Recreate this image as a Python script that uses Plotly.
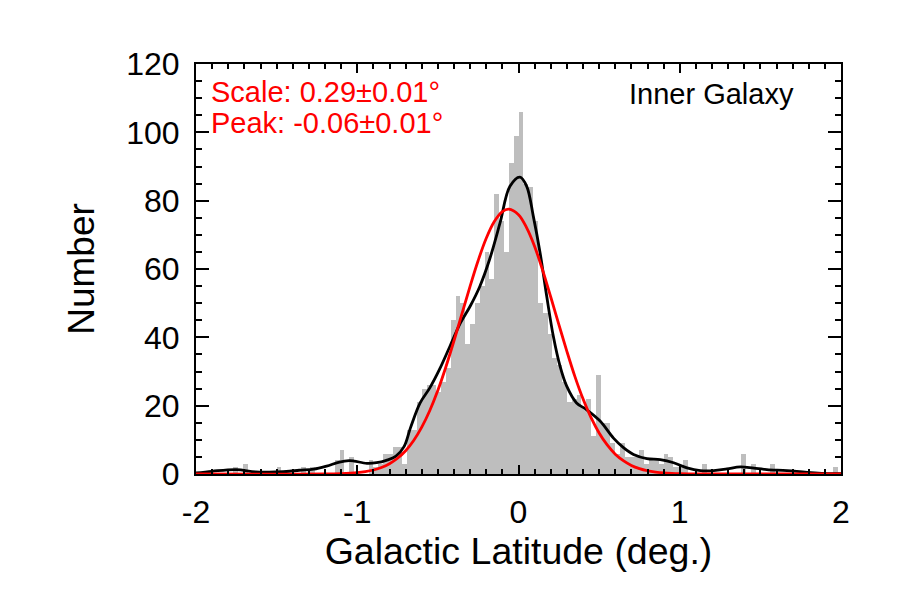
import numpy as np
import plotly.graph_objects as go

# ---------------- data ----------------
bin_start = -2.01      # left edge of first bin (deg)
bin_width = 0.03       # bin width (deg)
counts = [
    0, 0, 0, 0, 0, 0, 0, 0, 2, 0,          # -2.01 .. -1.74
    3, 0, 0, 0, 0, 0, 0, 2, 0, 0,          # -1.71 .. -1.44
    0, 0, 2, 0, 2, 0, 0, 0, 0, 4,          # -1.41 .. -1.14
    7, 0, 5, 0, 0, 0, 4, 2, 3, 6,          # -1.11 .. -0.84
    6, 8, 8, 3, 13, 13, 21, 25, 26, 26,    # -0.81 .. -0.54
    24, 27, 31, 45, 52, 50, 38, 44, 50, 55,  # -0.51 .. -0.24
    65, 57, 82, 74, 65, 91, 99, 106, 85, 84,  # -0.21 .. 0.06
    74, 50, 47, 41, 34, 32, 27, 21, 22, 23,  # 0.09 .. 0.36
    20, 22, 11, 29, 15, 15, 9, 6, 9, 5,      # 0.39 .. 0.66
    5, 5, 7, 3, 4, 4, 3, 6, 5, 2,            # 0.69 .. 0.96
    2, 4, 0, 0, 0, 3, 0, 0, 0, 0,            # 0.99 .. 1.26
    0, 0, 0, 6, 0, 3, 0, 0, 0, 3,            # 1.29 .. 1.56
    0, 0, 0, 0, 0, 0, 0, 0, 0, 0,            # 1.59 .. 1.86
    0, 0, 2, 0                               # 1.89 .. 1.98
]

# smoothed distribution (black curve)
smooth_x = [-2.0, -1.9, -1.75, -1.63, -1.5, -1.42, -1.36, -1.27, -1.19, -1.11,
            -1.05, -1.02, -0.94, -0.88, -0.82, -0.76, -0.71, -0.67, -0.61, -0.55,
            -0.49, -0.425, -0.36, -0.30, -0.24, -0.18, -0.115, -0.053, 0.009, 0.051,
            0.092, 0.134, 0.175, 0.216, 0.258, 0.299, 0.36, 0.42, 0.506, 0.589,
            0.651, 0.713, 0.796, 0.879, 0.962, 1.045, 1.128, 1.21, 1.293, 1.376,
            1.46, 1.54, 1.665, 1.79, 1.95, 2.0]
smooth_y = [0.3, 0.8, 1.3, 0.6, 0.6, 0.8, 1.1, 1.4, 2.3, 3.5,
            3.9, 3.8, 3.1, 3.3, 4.0, 5.2, 8.0, 13.5, 20.8, 25.2,
            30.6, 37.4, 44.2, 49.1, 54.9, 62.7, 73.4, 84.2, 86.9, 84.2,
            75.4, 64.7, 52.0, 40.3, 31.5, 25.7, 20.8, 18.9, 15.5, 10.5,
            7.7, 5.7, 4.5, 4.2, 3.3, 1.8, 1.0, 1.0, 1.5, 2.1,
            1.7, 1.3, 1.0, 0.5, 0.1, 0.1]

# Gaussian fit (red curve)
fit_x = [-2.0, -1.2, -1.1, -1.0, -0.95, -0.9, -0.85, -0.8, -0.75, -0.7,
         -0.65, -0.6, -0.55, -0.5, -0.45, -0.4, -0.35, -0.3, -0.25, -0.2,
         -0.15, -0.1, -0.06, 0.0, 0.05, 0.1, 0.15, 0.2, 0.25, 0.3,
         0.35, 0.4, 0.45, 0.5, 0.55, 0.6, 0.65, 0.7, 0.75, 0.8,
         0.85, 0.9, 0.95, 1.0, 1.1, 2.0]
fit_y = [0, 0, 0.12, 0.4, 0.7, 1.17, 1.9, 3.0, 4.6, 6.8,
         9.8, 13.7, 18.6, 24.5, 31.4, 39.0, 47.0, 55.0, 62.5, 69.0,
         73.9, 76.8, 77.5, 75.9, 72.1, 66.6, 59.6, 51.8, 43.8, 35.9,
         28.5, 22.0, 16.5, 12.0, 8.5, 5.8, 3.9, 2.5, 1.57, 0.95,
         0.57, 0.32, 0.18, 0.1, 0.02, 0]

x_ticks = [-2, -1, 0, 1, 2]
y_ticks = [0, 20, 40, 60, 80, 100, 120]

label_scale = "Scale: 0.29±0.01°"
label_peak = "Peak: -0.06±0.01°"
label_region = "Inner Galaxy"

# ---------------- figure ----------------
FONT = "Liberation Sans, Arial, Helvetica, sans-serif"
centers = bin_start + bin_width * (np.arange(len(counts)) + 0.5)

fig = go.Figure()
fig.add_trace(go.Bar(x=centers, y=counts, width=bin_width,
                     marker=dict(color="#bebebe", line=dict(width=0)),
                     showlegend=False, hoverinfo="skip"))
fig.add_trace(go.Scatter(x=smooth_x, y=smooth_y, mode="lines",
                         line=dict(color="black", width=2.8, shape="spline"),
                         showlegend=False))
fig.add_trace(go.Scatter(x=fit_x, y=fit_y, mode="lines",
                         line=dict(color="#ff0000", width=2.8, shape="spline"),
                         showlegend=False))

fig.add_annotation(x=0, y=1, xref="paper", yref="paper", xanchor="left", yanchor="top",
                   xshift=13, yshift=-10, text=label_scale, showarrow=False,
                   font=dict(family=FONT, size=29, color="#ff0000"))
fig.add_annotation(x=0, y=1, xref="paper", yref="paper", xanchor="left", yanchor="top",
                   xshift=13, yshift=-41, text=label_peak, showarrow=False,
                   font=dict(family=FONT, size=29, color="#ff0000"))
fig.add_annotation(x=1, y=1, xref="paper", yref="paper", xanchor="right", yanchor="top",
                   xshift=-45, yshift=-12, text=label_region, showarrow=False,
                   font=dict(family=FONT, size=29, color="black"))

axis_common = dict(showline=True, linecolor="black", linewidth=2, mirror="allticks",
                   ticks="inside", tickcolor="black", tickwidth=2,
                   showgrid=False, zeroline=False,
                   tickfont=dict(family=FONT, size=32, color="black"))

fig.update_xaxes(range=[-2, 2], tickvals=x_ticks, ticktext=[str(v) for v in x_ticks],
                 ticklen=9, ticklabelstandoff=9,
                 minor=dict(ticks="inside", dtick=0.1, ticklen=5, tickwidth=2,
                            tickcolor="black", showgrid=False),
                 title=dict(text="Galactic Latitude (deg.)",
                            font=dict(family=FONT, size=37.5, color="black"), standoff=8),
                 **axis_common)
fig.update_yaxes(range=[0, 120], tickvals=y_ticks, ticktext=[str(v) for v in y_ticks],
                 ticklen=13, ticklabelstandoff=8,
                 minor=dict(ticks="inside", dtick=5, ticklen=6, tickwidth=2,
                            tickcolor="black", showgrid=False),
                 title=dict(text="Number",
                            font=dict(family=FONT, size=37, color="black"), standoff=20),
                 **axis_common)

fig.update_layout(width=900, height=600, paper_bgcolor="white", plot_bgcolor="white",
                  margin=dict(l=196, r=59, t=64, b=126), bargap=0,
                  font=dict(family=FONT, color="black"))

fig.write_html("out.html")
